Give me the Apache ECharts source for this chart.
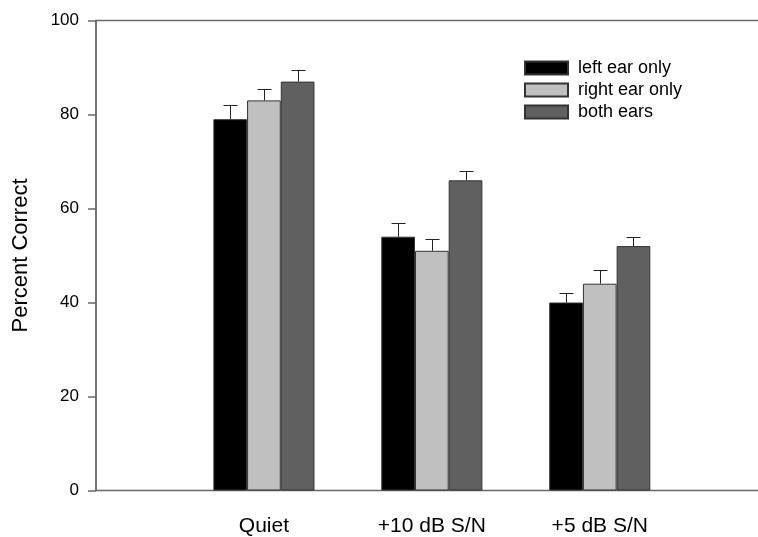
<!DOCTYPE html>
<html>
<head>
<meta charset="utf-8">
<script src="https://cdn.jsdelivr.net/npm/echarts@6/dist/echarts.min.js"></script>
<style>
  html, body { margin: 0; padding: 0; background: #fff; }
  #main { width: 758px; height: 537px; }
</style>
</head>
<body>
<div id="main"></div>
<script>
// categories (empty slots at both ends keep the plot spacing)
var conditions = ['', 'Quiet', '+10 dB S/N', '+5 dB S/N', ''];
var seriesNames = ['left ear only', 'right ear only', 'both ears'];

// percent correct
var leftEar  = ['-', 79, 54, 40, '-'];
var rightEar = ['-', 83, 51, 44, '-'];
var bothEars = ['-', 87, 66, 52, '-'];

// upper error bar size
var leftErr  = [0, 3, 3, 2, 0];
var rightErr = [0, 2.5, 2.5, 3, 0];
var bothErr  = [0, 2.5, 2, 2, 0];

var yTicks = [0, 20, 40, 60, 80, 100];

var BAR_W = 33.7;
var CAP_W = 14;
var FONT = '"Liberation Sans", Arial, sans-serif';

var values = [leftEar, rightEar, bothEars];
var errs = [leftErr, rightErr, bothErr];
var colors = ['#000000', '#c0c0c0', '#606060'];

// error bar points: [category index, value, err, series index]
var errData = [];
for (var s = 0; s < values.length; s++) {
    for (var i = 0; i < conditions.length; i++) {
        if (values[s][i] !== '-') {
            errData.push([i, values[s][i], errs[s][i], s]);
        }
    }
}

function renderErr(params, api) {
    var cat = api.value(0), val = api.value(1), err = api.value(2), k = api.value(3);
    var base = api.coord([cat, val]);
    var top = api.coord([cat, val + err]);
    var x = Math.round(base[0] + (k - 1) * BAR_W) + 0.5;
    var ty = Math.round(top[1]) + 0.5;
    var style = { stroke: '#222', lineWidth: 1 };
    return {
        type: 'group',
        children: [
            { type: 'line', shape: { x1: x, y1: base[1], x2: x, y2: ty }, style: style },
            { type: 'line', shape: { x1: x - CAP_W / 2, y1: ty, x2: x + CAP_W / 2, y2: ty }, style: style }
        ]
    };
}

var myChart = echarts.init(document.getElementById('main'));

var series = [];
for (var j = 0; j < seriesNames.length; j++) {
    series.push({
        name: seriesNames[j],
        type: 'bar',
        data: values[j],
        barWidth: BAR_W,
        barGap: '0%',
        itemStyle: { color: colors[j], borderColor: '#333', borderWidth: 1 }
    });
}
series.push({
    type: 'custom',
    renderItem: renderErr,
    data: errData,
    z: 5,
    silent: true
});

var option = {
    backgroundColor: '#fff',
    animation: false,
    textStyle: { fontFamily: FONT },
    grid: {
        left: 96,
        right: -9.7,
        top: 20.5,
        bottom: 46.5,
        show: true,
        borderColor: '#6a6a6a',
        borderWidth: 1.5,
        outerBoundsMode: 'none'
    },
    legend: {
        data: seriesNames,
        orient: 'vertical',
        left: 524,
        top: 59,
        padding: 0,
        itemWidth: 43,
        itemHeight: 13,
        itemGap: 4,
        icon: 'rect',
        textStyle: { fontFamily: FONT, fontSize: 18, lineHeight: 18, color: '#000', padding: [0, 0, 0, 5] }
    },
    xAxis: {
        type: 'category',
        data: conditions,
        boundaryGap: false,
        axisLine: { show: false },
        axisTick: { show: false },
        axisLabel: { fontFamily: FONT, fontSize: 21, color: '#000', margin: 25, interval: 0 },
        splitLine: { show: false }
    },
    yAxis: {
        type: 'value',
        min: yTicks[0],
        max: yTicks[yTicks.length - 1],
        interval: yTicks[1] - yTicks[0],
        name: 'Percent Correct',
        nameLocation: 'middle',
        nameGap: 64,
        nameTextStyle: { fontFamily: FONT, fontSize: 22, color: '#000' },
        axisLine: { show: true, lineStyle: { color: '#6a6a6a', width: 1.5 } },
        axisTick: { show: true, length: 8, lineStyle: { color: '#6a6a6a', width: 1.5 } },
        axisLabel: { fontFamily: FONT, fontSize: 17, color: '#000', margin: 17 },
        splitLine: { show: false }
    },
    series: series
};

myChart.setOption(option);
</script>
</body>
</html>
